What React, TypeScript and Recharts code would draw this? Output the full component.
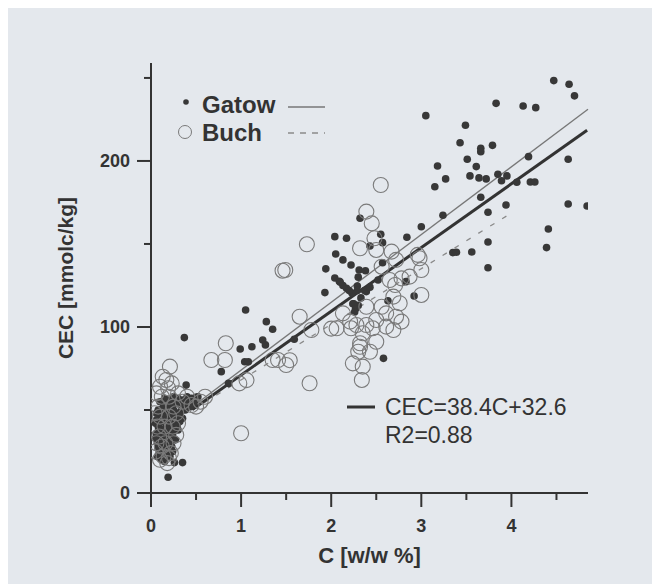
import React from 'react';
import { ScatterChart, Scatter, XAxis, YAxis, ReferenceLine, Customized } from 'recharts';

// ---- data ----
const xTicks = [0, 0.5, 1, 1.5, 2, 2.5, 3, 3.5, 4, 4.5];
const yTicks = [0, 50, 100, 150, 200, 250];

// Gatow (filled dots): [C %, CEC]
const gatowHigh: number[][] = [
  [4.47, 248.4], [4.64, 246.2], [4.70, 239.2], [3.83, 234.7], [4.13, 233.1], [4.27, 232.1],
  [3.05, 227.3], [3.49, 221.5], [3.43, 211], [3.66, 207.6], [3.66, 205.6], [3.79, 209.4],
  [4.19, 202.6], [3.51, 201], [3.18, 197], [3.61, 196.6], [4.63, 201], [3.27, 189.2],
  [3.54, 191], [3.64, 189.8], [3.72, 189.2], [3.85, 192], [3.95, 191], [3.89, 188.1],
  [4.06, 187.2], [4.21, 187.3], [4.26, 187.3], [3.15, 184.5], [3.66, 178.1], [4.63, 174.1],
  [4.84, 172.9], [3.94, 173.5], [3.74, 169.1], [3.24, 167.3], [4.41, 159], [4.39, 147.8],
  [3.74, 151.2], [3.35, 144.8], [3.39, 145], [3.56, 145.2], [3.74, 135.7], [3.0, 160.4],
  [2.84, 154],
];
const gatowMid: number[][] = [
  [2.32, 165.5], [2.55, 155.8], [2.57, 150.8], [2.04, 154.4], [2.17, 153.4], [2.05, 144],
  [2.13, 140.4], [2.22, 137.3], [2.31, 134.3], [2.38, 133.9], [2.43, 148.8], [2.57, 138.7],
  [2.04, 129.5], [2.09, 127.5], [2.13, 125], [2.17, 123.3], [2.29, 124.7], [2.39, 121.3],
  [2.52, 128.3], [2.83, 127.3], [2.92, 118.7], [2.63, 115.8], [2.23, 120.5], [2.29, 122],
  [2.33, 117.5], [2.25, 114], [2.30, 113], [2.58, 81.1], [1.94, 135], [1.93, 120.7],
  [2.10, 127], [2.20, 122], [2.37, 122], [2.43, 124], [2.24, 114], [2.27, 111], [2.26, 109],
  [2.30, 130],
];
const gatowLow: number[][] = [
  [1.05, 110.2], [1.28, 103.2], [1.35, 98.6], [1.12, 88.1], [0.99, 86.7], [1.24, 92.2],
  [1.27, 89.2], [1.59, 92.6], [1.04, 79.1], [1.08, 79], [0.78, 73.1], [0.86, 66],
  [0.37, 93.6], [0.39, 65], [0.50, 57.6], [0.19, 9.5], [0.26, 18.3], [0.35, 18.3],
];
const gatowOrigin: number[][] = [
  [0.15, 57], [0.2, 56], [0.25, 58], [0.3, 57], [0.35, 56], [0.4, 58], [0.45, 57], [0.5, 56],
  [0.28, 54], [0.42, 54], [0.22, 53], [0.08, 50], [0.12, 48], [0.16, 51], [0.2, 49], [0.25, 50],
  [0.3, 48], [0.34, 51], [0.1, 45], [0.14, 43], [0.18, 44], [0.22, 42], [0.27, 44], [0.32, 43],
  [0.08, 40], [0.12, 38], [0.16, 39], [0.2, 37], [0.25, 38], [0.1, 34], [0.14, 33], [0.18, 32],
  [0.22, 34], [0.27, 32], [0.07, 30], [0.11, 28], [0.15, 29], [0.19, 27], [0.23, 28], [0.09, 24],
  [0.13, 23], [0.17, 24], [0.21, 22], [0.12, 20], [0.3, 38], [0.35, 45], [0.38, 50], [0.44, 52],
  [0.06, 36], [0.06, 44],
];
const gatowOriginDense: number[][] = [
  [0.1, 55], [0.18, 54], [0.26, 55], [0.33, 54], [0.38, 55], [0.47, 54], [0.52, 58], [0.06, 48],
  [0.1, 50], [0.14, 52], [0.18, 47], [0.23, 46], [0.28, 47], [0.32, 46], [0.05, 42], [0.09, 42],
  [0.13, 46], [0.17, 41], [0.21, 40], [0.25, 41], [0.29, 40], [0.05, 33], [0.08, 37], [0.12, 35],
  [0.16, 35], [0.2, 31], [0.24, 35], [0.08, 27], [0.12, 31], [0.16, 26], [0.2, 25], [0.1, 21],
  [0.15, 19], [0.07, 22], [0.24, 25], [0.33, 49], [0.4, 53], [0.36, 52],
];

// Buch (open circles): [C %, CEC]
const buchHigh: number[][] = [
  [2.55, 185.5], [1.73, 149.8], [1.49, 134.3], [2.39, 169.5], [2.45, 162.4], [2.48, 153.4],
  [2.32, 147.4], [2.50, 146.4], [2.67, 145.4], [2.72, 140.4], [2.96, 143.4], [2.98, 141.4],
  [3.00, 134.3], [2.56, 136.3], [2.65, 128.3], [2.78, 129.3], [2.71, 125.3], [2.87, 130.3],
  [3.00, 119.3], [2.69, 118.3], [2.76, 114.3], [2.56, 112.2], [2.39, 112.2], [2.13, 108.2],
  [2.61, 108.2], [2.72, 106.2], [2.78, 103.2], [2.50, 104.2], [2.39, 101.2], [2.28, 101.2],
  [2.21, 103.2], [2.06, 99.2], [2.35, 96.2], [2.46, 99.2], [2.69, 98.2], [2.61, 100.2],
  [2.32, 90.2], [2.50, 91.1], [2.43, 85.1], [2.30, 85.1], [2.24, 78.1], [2.35, 76.1],
  [2.34, 68.1], [2.22, 99.2], [2.32, 88.1],
];
const buchMid: number[][] = [
  [1.46, 133.9], [1.65, 106.2], [1.78, 98.2], [1.41, 80.1], [1.50, 77.1], [1.54, 80],
  [1.35, 80.1], [1.76, 66.1], [1.00, 36], [0.83, 90.2], [0.67, 80.1], [0.82, 80.1],
  [0.98, 66], [1.06, 68], [2.0, 99],
];
const buchOrigin: number[][] = [
  [0.21, 76.1], [0.17, 68.1], [0.19, 63.1], [0.12, 58], [0.08, 52], [0.1, 46], [0.07, 40],
  [0.09, 34], [0.12, 28], [0.14, 22], [0.18, 18], [0.22, 24], [0.25, 30], [0.28, 35],
  [0.3, 42], [0.2, 46], [0.15, 40], [0.25, 52], [0.35, 55], [0.45, 53], [0.55, 55], [0.6, 58],
  [0.05, 25], [0.06, 60], [0.23, 66], [0.13, 70], [0.3, 60], [0.1, 64], [0.2, 58], [0.04, 48],
  [0.06, 30], [0.16, 30], [0.24, 40], [0.1, 20], [0.2, 21], [0.28, 48], [0.4, 58], [0.5, 52],
];

// fitted lines (end points)
const fitAll = [{ x: 0.46, y: 50.3 }, { x: 4.84, y: 218.5 }];
const fitGatow = [{ x: 0.46, y: 52 }, { x: 4.85, y: 231.2 }];
const fitBuch = [{ x: 0.46, y: 50 }, { x: 3.98, y: 168 }];

const seriesNames = ['Gatow', 'Buch'];
const equationText = ['CEC=38.4C+32.6', 'R2=0.88'];

const toPts = (arr: number[][]) => arr.map(([x, y]) => ({ x, y }));
const gatowData = toPts([...gatowHigh, ...gatowMid, ...gatowLow, ...gatowOrigin, ...gatowOriginDense]);
const buchData = toPts([...buchHigh, ...buchMid, ...buchOrigin]);

const FONT = '"Liberation Sans", Arial, sans-serif';
const INK = '#333';

const XTick = (props: any) => {
  const { x, y, payload } = props;
  const major = Number.isInteger(payload.value);
  return (
    <g>
      <line x1={x} x2={x} y1={y} y2={y + (major ? 14 : 7)} stroke={INK} strokeWidth={2} />
      {major && (
        <text x={x} y={y + 39} textAnchor="middle" fontFamily={FONT} fontWeight="bold" fontSize={18} fill={INK}>
          {payload.value}
        </text>
      )}
    </g>
  );
};

const YTick = (props: any) => {
  const { x, y, payload } = props;
  const major = payload.value % 100 === 0;
  return (
    <g>
      <line x1={x} x2={x - (major ? 14 : 7)} y1={y} y2={y} stroke={INK} strokeWidth={2} />
      {major && (
        <text x={x - 21} y={y} dy="0.36em" textAnchor="end" fontFamily={FONT} fontWeight="bold" fontSize={18} fill={INK}>
          {payload.value}
        </text>
      )}
    </g>
  );
};

const XLabel = (props: any) => {
  const vb = props.viewBox;
  return (
    <text x={vb.x + vb.width / 2} y={vb.y + 70} textAnchor="middle" fontFamily={FONT} fontWeight="bold" fontSize={22} fill={INK}>
      C [w/w %]
    </text>
  );
};

const YLabel = (props: any) => {
  const vb = props.viewBox;
  const cx = vb.x + 57;
  const cy = vb.y + vb.height / 2;
  return (
    <text x={cx} y={cy} dy="0.36em" transform={`rotate(-90, ${cx}, ${cy})`} textAnchor="middle" fontFamily={FONT} fontWeight="bold" fontSize={21} fill={INK}>
      CEC [mmolc/kg]
    </text>
  );
};

const Dot = (props: any) => <circle cx={props.cx} cy={props.cy} r={3.8} fill="#383838" />;
const Ring = (props: any) => <circle cx={props.cx} cy={props.cy} r={7.5} fill="none" stroke="#7a7a7a" strokeWidth={1.1} />;

const Annotations = () => (
  <g fontFamily={FONT}>
    <circle cx={178} cy={94} r={2.8} fill="#383838" />
    <text x={194} y={105} fontWeight="bold" fontSize={24} fill={INK}>{seriesNames[0]}</text>
    <line x1={280} x2={317} y1={99} y2={99} stroke="#777" strokeWidth={1.3} />
    <circle cx={177} cy={124} r={6.5} fill="none" stroke="#7a7a7a" strokeWidth={1} />
    <text x={194} y={132.5} fontWeight="bold" fontSize={24} fill={INK}>{seriesNames[1]}</text>
    <line x1={280} x2={317} y1={125} y2={125} stroke="#8a8a8a" strokeWidth={1.3} strokeDasharray="6 6" />
    <line x1={339} x2={367} y1={399} y2={399} stroke={INK} strokeWidth={3} />
    <text x={377} y={407} fontSize={23} fill={INK}>{equationText[0]}</text>
    <text x={377} y={435} fontSize={23} fill={INK}>{equationText[1]}</text>
  </g>
);

export default function App() {
  const W = 652;
  const H = 576;
  return (
    <div style={{ width: W, height: H, background: '#e4e8ed' }}>
      <ScatterChart width={W} height={H} margin={{ top: 55, right: 72, bottom: 0, left: 0 }}>
        <XAxis
          type="number"
          dataKey="x"
          domain={[0, 4.85]}
          ticks={xTicks}
          interval={0}
          allowDataOverflow
          height={91}
          axisLine={{ stroke: INK, strokeWidth: 2 }}
          tickLine={false}
          tickSize={0}
          tickMargin={0}
          tick={<XTick />}
          label={<XLabel />}
        />
        <YAxis
          type="number"
          dataKey="y"
          domain={[0, 259]}
          ticks={yTicks}
          interval={0}
          allowDataOverflow
          width={143}
          axisLine={{ stroke: INK, strokeWidth: 2 }}
          tickLine={false}
          tickSize={0}
          tickMargin={0}
          tick={<YTick />}
          label={<YLabel />}
        />
        <Scatter name="Gatow" data={gatowData} shape={<Dot />} isAnimationActive={false} />
        <Scatter name="Buch" data={buchData} shape={<Ring />} isAnimationActive={false} />
        <ReferenceLine segment={fitBuch} stroke="#8a8a8a" strokeWidth={1.3} strokeDasharray="5 9" />
        <ReferenceLine segment={fitGatow} stroke="#777" strokeWidth={1.3} />
        <ReferenceLine segment={fitAll} stroke={INK} strokeWidth={3} />
        <Customized component={Annotations} />
      </ScatterChart>
    </div>
  );
}
